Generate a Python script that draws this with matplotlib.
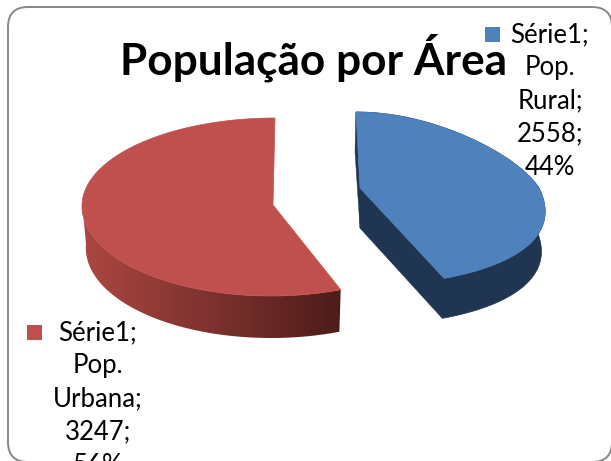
import numpy as np
import matplotlib

matplotlib.use("Agg")
import matplotlib.pyplot as plt
from matplotlib.colors import LinearSegmentedColormap
from matplotlib.patches import FancyBboxPatch, Polygon, Rectangle

title = "População por Área"
series = "Série1"
categories = ["Pop. Rural", "Pop. Urbana"]
values = [2558, 3247]
percents = ["44%", "56%"]
top_colors = ["#4f81bd", "#c0504d"]

# slice geometry in pixels: apex x, apex y, x radius, back y radius,
# front y radius, widening to the front, skew, depth
geom = [
    (360, 188, 179, 76, 97, 0.25, 4, 40),
    (273, 205, 191, 87, 91, 0.0, -2, 42),
]
shrink = 0.98  # lower rim is a little narrower than the top face


def project(theta, g):
    cx, cy, a, bb, bf, k, skew, depth = g
    u = np.sin(theta)
    v = -np.cos(theta)
    x = cx + a * u * (1 + k * v) + skew * v
    y = cy + np.where(v < 0, bb, bf) * v
    return x, y


def lower(x, y, g):
    return g[0] + (x - g[0]) * shrink, y + g[7]


fig = plt.figure(figsize=(6.11, 4.61), dpi=100)
ax = fig.add_axes([0, 0, 1, 1])

ax.add_patch(FancyBboxPatch((28, 27), 564, 415,
                            boxstyle="round,pad=20,rounding_size=20",
                            fc="white", ec="#868686", lw=1.4))

fracs = np.array(values) / sum(values)
edges = np.concatenate([[0], np.cumsum(fracs)]) * 2 * np.pi

# blue slice
g = geom[0]
th = np.linspace(edges[0], edges[1], 160)
x, y = project(th, g)
rim_x = np.concatenate([x, [g[0]]])
rim_y = np.concatenate([y, [g[1]]])
low_x, low_y = lower(rim_x, rim_y, g)
dark = "#1f3552"
ax.add_patch(Polygon(np.column_stack([np.concatenate([rim_x, low_x[::-1]]),
                                      np.concatenate([rim_y, low_y[::-1]])]),
                     closed=True, fc=dark, ec=dark, lw=0.5))
# thin dark sliver behind the back edge
ax.add_patch(Polygon([(x[0], y[0]), (g[0], g[1]), (g[0], g[1] + g[7]), (x[0] - 1, y[0] + 40)],
                     closed=True, fc=dark, ec=dark, lw=0.3))
ax.add_patch(Polygon(np.column_stack([rim_x, rim_y]), closed=True,
                     fc=top_colors[0], ec=top_colors[0], lw=0.5))

# red slice, wall shaded from left to right
g = geom[1]
th = np.linspace(edges[1], edges[2], 200)
x, y = project(th, g)
keep = th <= np.radians(272)
wx, wy = x[keep], y[keep]
lx, ly = lower(wx, wy, g)
wall = Polygon(np.column_stack([np.concatenate([wx, lx[::-1]]),
                                np.concatenate([wy, ly[::-1]])]),
               closed=True, fc="none", ec="none", transform=ax.transData)
ax.add_patch(wall)
shade = LinearSegmentedColormap.from_list("wall", ["#ad4742", "#4d1c1a"])
img = ax.imshow(np.linspace(0, 1, 256)[None, :], cmap=shade, aspect="auto",
                extent=(wx.min(), wx.max(), ly.max(), wy.min()), zorder=1)
img.set_clip_path(wall)
ax.add_patch(Polygon(np.column_stack([np.concatenate([x, [g[0]]]),
                                      np.concatenate([y, [g[1]]])]),
                     closed=True, fc=top_colors[1], ec=top_colors[1], lw=0.5, zorder=2))

ax.text(314, 58, title, ha="center", va="center", fontsize=31.8,
        fontweight="bold", family="Lato", color="black")

label_pos = [(550, 101), (98, 399)]
key_pos = [(485, 27), (27, 325)]
for i in range(2):
    word = categories[i].split(" ")
    txt = "\n".join([series + ";", word[0], word[1] + ";", str(values[i]) + ";", percents[i]])
    ax.text(label_pos[i][0], label_pos[i][1], txt, ha="center", va="center",
            fontsize=18.5, family="Lato", color="black", linespacing=1.41)
    ax.add_patch(Rectangle(key_pos[i], 15, 15, fc=top_colors[i], ec="none"))

ax.set_xlim(0, 611)
ax.set_ylim(461, 0)
ax.axis("off")

fig.savefig("out.png", dpi=100)
